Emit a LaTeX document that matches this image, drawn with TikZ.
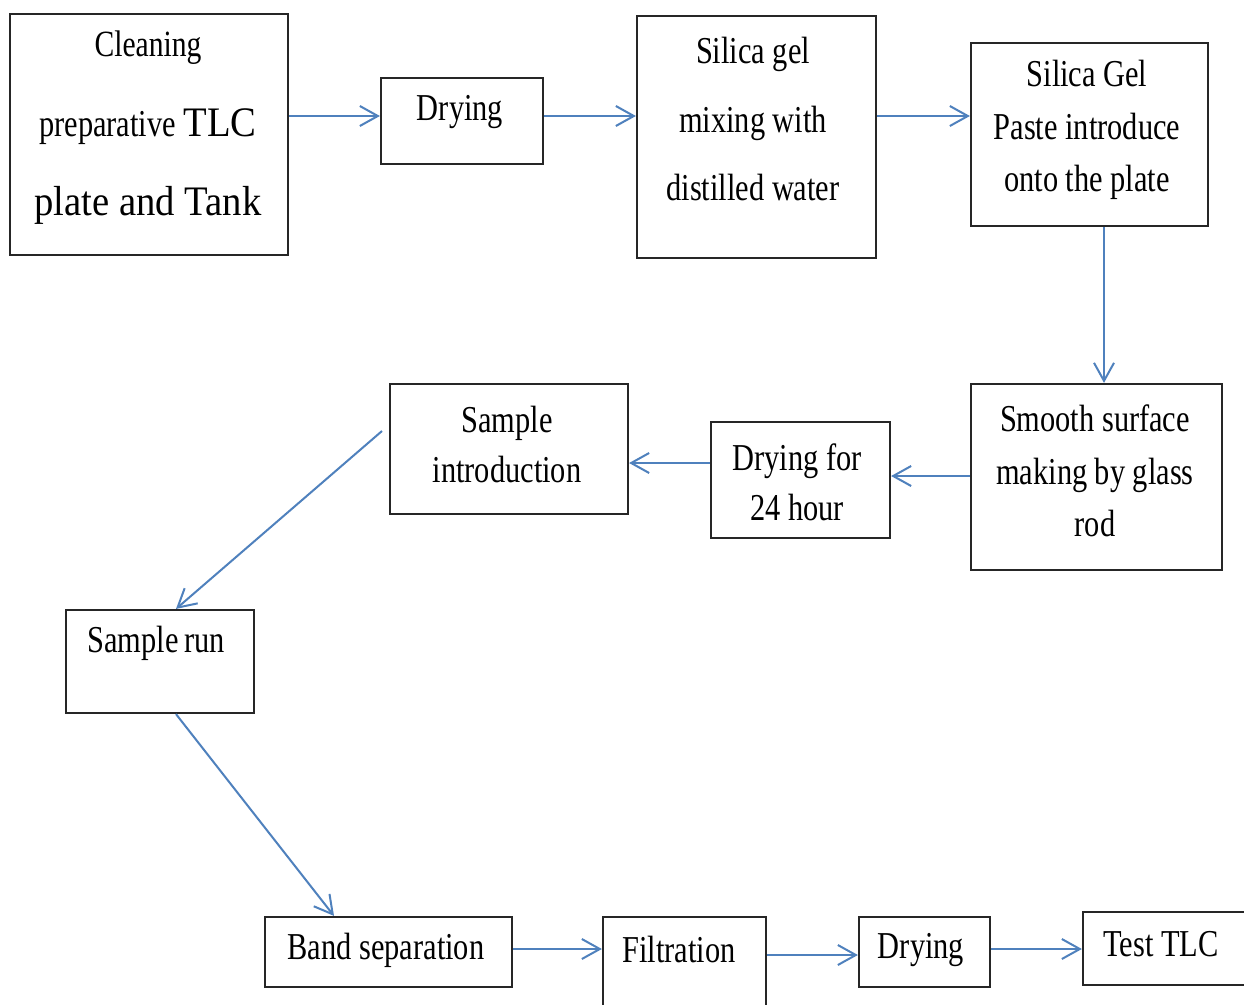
\documentclass[tikz,border=0pt]{standalone}
\usepackage{fontspec}
\setmainfont[FakeStretch=0.8]{Liberation Serif}
\newfontfamily\widefont[FakeStretch=0.92]{Liberation Serif}
\usetikzlibrary{arrows.meta}
\definecolor{arrblue}{RGB}{79,129,189}
\tikzset{
  box/.style={draw=black!85, line width=2.2pt, rectangle, inner sep=0pt, fill=white},
  lbl/.style={align=center, inner sep=0pt, text=black},
  arr/.style={draw=arrblue, line width=2pt, -{Straight Barb[length=18pt,width=20pt,line width=2pt]}}
}
\begin{document}
\begin{tikzpicture}[x=1pt,y=-1pt]
\clip (0,0) rectangle (1244,1004);
\fill[white] (0,0) rectangle (1244,1004);
% boxes
\node[box, minimum width=278pt, minimum height=241pt] (b1) at (149,134.5) {};
\node[box, minimum width=162pt, minimum height=86pt] (b2) at (462,121) {};
\node[box, minimum width=239pt, minimum height=242pt] (b3) at (756.5,137) {};
\node[box, minimum width=237pt, minimum height=183pt] (b4) at (1089.5,134.5) {};
\node[box, minimum width=251pt, minimum height=186pt] (b5) at (1096.5,477) {};
\node[box, minimum width=179pt, minimum height=116pt] (b6) at (800.5,480) {};
\node[box, minimum width=238pt, minimum height=130pt] (b7) at (509,449) {};
\node[box, minimum width=188pt, minimum height=103pt] (b8) at (160,661.5) {};
\node[box, minimum width=247pt, minimum height=70pt] (b9) at (388.5,952) {};
\node[box, minimum width=163pt, minimum height=100pt] (b10) at (684.5,967) {};
\node[box, minimum width=131pt, minimum height=70pt] (b11) at (924.5,952) {};
\node[box, minimum width=180pt, minimum height=73pt] (b12) at (1173,948.5) {};
% labels
\node[lbl, font={\fontsize{38}{79.5}\selectfont}] (t1) at (148,128)
  {\fontsize{37}{79.5}\selectfont Cleaning\\
   \fontsize{38}{79.5}\selectfont preparative {\widefont\fontsize{42}{79.5}\selectfont TLC}\\
   \widefont\fontsize{42}{79.5}\selectfont plate and Tank};
\node[lbl, font={\fontsize{38}{50}\selectfont}] (t2) at (460,112) {Drying};
\node[lbl, font={\fontsize{38}{68.5}\selectfont}] (t3) at (753,119) {Silica gel\\mixing with\\distilled water};
\node[lbl, font={\fontsize{38}{52.5}\selectfont}] (t4) at (1087,130) {Silica Gel\\Paste introduce\\onto the plate};
\node[lbl, font={\fontsize{38}{52.5}\selectfont}] (t5) at (1095,471) {Smooth surface\\making by glass\\rod};
\node[lbl, font={\fontsize{38}{50}\selectfont}] (t6) at (797,482) {Drying for\\24 hour};
\node[lbl, font={\fontsize{38}{50}\selectfont}] (t7) at (507,444) {Sample\\introduction};
\node[lbl, font={\fontsize{38}{50}\selectfont}] (t8) at (156,643) {Sample\kern-2pt\ run};
\node[lbl, font={\fontsize{38}{50}\selectfont}] (t9) at (386,950) {Band separation};
\node[lbl, font={\fontsize{38}{50}\selectfont}] (t10) at (679,949) {Filtration};
\node[lbl, font={\fontsize{38}{50}\selectfont}] (t11) at (921,950) {Drying};
\node[lbl, font={\fontsize{38}{50}\selectfont}] (t12) at (1161,944) {Test TLC};
% connectors
\coordinate (s7) at (382,431);
\draw[arr] (b1.east |- 0,116) -- (b2.west |- 0,116);
\draw[arr] (b2.east |- 0,116) -- (b3.west |- 0,116);
\draw[arr] (b3.east |- 0,116) -- (b4.west |- 0,116);
\draw[arr] (b4.south -| 1104,0) -- (b5.north -| 1104,0);
\draw[arr] (b5.west |- 0,476) -- (b6.east |- 0,476);
\draw[arr] (b6.west |- 0,463) -- (b7.east |- 0,463);
\draw[arr] (s7) -- (b8.north -| 176,0);
\draw[arr] (b8.south -| 176,0) -- (b9.north -| 334,0);
\draw[arr] (b9.east |- 0,949) -- (b10.west |- 0,949);
\draw[arr] (b10.east |- 0,955) -- (b11.west |- 0,955);
\draw[arr] (b11.east |- 0,949) -- (b12.west |- 0,949);
\end{tikzpicture}
\end{document}
